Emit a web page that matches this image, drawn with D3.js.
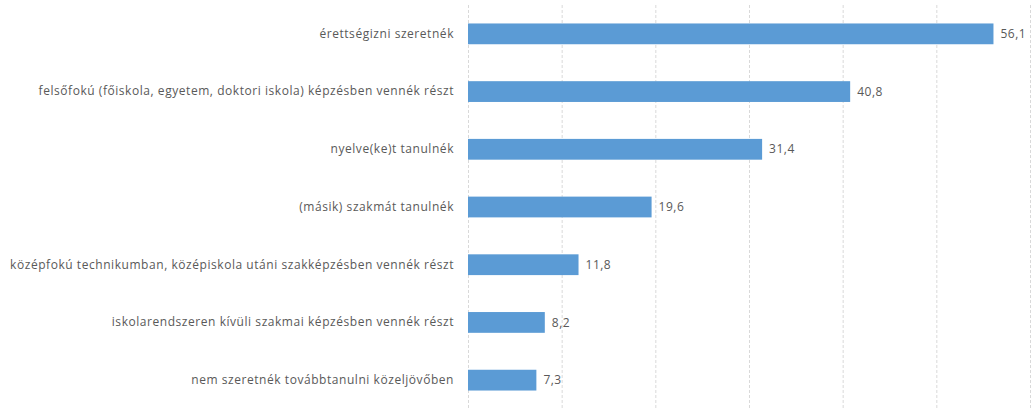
<!DOCTYPE html>
<html>
<head>
<meta charset="utf-8">
<script src="https://cdn.jsdelivr.net/npm/d3@7"></script>
<style>
  html, body { margin: 0; padding: 0; background: #fff; }
  #chart text { font-family: "Open Sans", "Noto Sans", sans-serif; fill: #595959; }
</style>
</head>
<body>
<div id="chart"></div>
<script>
const categories = [
  'érettségizni szeretnék',
  'felsőfokú (főiskola, egyetem, doktori iskola) képzésben vennék részt',
  'nyelve(ke)t tanulnék',
  '(másik) szakmát tanulnék',
  'középfokú technikumban, középiskola utáni szakképzésben vennék részt',
  'iskolarendszeren kívüli szakmai képzésben vennék részt',
  'nem szeretnék továbbtanulni közeljövőben'
];
const values = [56.1, 40.8, 31.4, 19.6, 11.8, 8.2, 7.3];
const xTicks = [0, 10, 20, 30, 40, 50, 60];

const width = 1031, height = 408;
const plot = { left: 468, right: 1030, top: 5, bottom: 409 };

const svg = d3.select('#chart')
  .append('svg')
  .attr('width', width)
  .attr('height', height);

const scaleX = d3.scaleLinear()
  .domain([0, 60])
  .range([plot.left, plot.right]);

const scaleY = d3.scaleBand()
  .domain(categories)
  .range([plot.top, plot.bottom])
  .paddingInner(0.64)
  .paddingOuter(0.32);

// dashed vertical grid
const xGridLines = d3.axisBottom(scaleX)
  .tickValues(xTicks)
  .tickFormat('')
  .tickSize(plot.bottom - plot.top);

svg.append('g')
  .attr('transform', `translate(0, ${plot.top})`)
  .call(xGridLines)
  .call(g => g.select('.domain').remove())
  .call(g => g.selectAll('line')
    .attr('stroke', '#d9d9d9')
    .attr('stroke-dasharray', '3,2'));

// bars
svg.append('g')
  .selectAll('rect')
  .data(values)
  .join('rect')
  .attr('x', scaleX(0))
  .attr('y', (d, i) => scaleY(categories[i]))
  .attr('width', d => scaleX(d) - scaleX(0))
  .attr('height', scaleY.bandwidth())
  .attr('fill', '#5b9bd5');

// value labels
svg.append('g')
  .selectAll('text')
  .data(values)
  .join('text')
  .attr('x', d => scaleX(d) + 7)
  .attr('y', (d, i) => scaleY(categories[i]) + scaleY.bandwidth() / 2)
  .attr('dy', '0.35em')
  .attr('font-size', 12)
  .attr('letter-spacing', '0.5px')
  .text(d => d3.format('.1f')(d).replace('.', ','));

// category labels
svg.append('g')
  .call(d3.axisLeft(scaleY).tickSize(0).tickPadding(14))
  .attr('transform', `translate(${plot.left}, 0)`)
  .call(g => g.select('.domain').remove())
  .call(g => g.selectAll('text')
    .attr('font-size', 12)
    .attr('letter-spacing', '0.55px'));
</script>
</body>
</html>
